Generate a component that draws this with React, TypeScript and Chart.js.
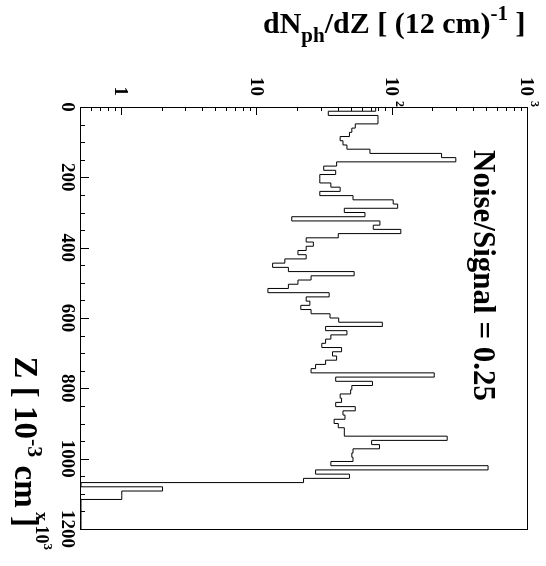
import React, { useEffect, useRef } from "react";
import { Chart, registerables } from "chart.js";

Chart.register(...registerables);

// Photon yield per 12-unit slice along Z (100 slices from 0 to 1200)
const BIN_WIDTH = 12;
const Z_MIN = 0;
const Z_MAX = 1200;
const counts: number[] = [
  75, 33.5, 78, 78, 53, 50, 48, 41, 43, 46,
  68, 230, 293, 38.6, 31, 38, 29, 29, 35, 41,
  29, 51, 101, 109, 44, 62.5, 18, 80.6, 72, 115,
  39.7, 23, 26, 23, 20, 23, 16, 13, 17, 52,
  25, 20, 17, 12, 34, 23, 24.5, 21, 25, 34.5,
  40, 84, 32, 46, 35, 32, 30, 42, 36, 38.6,
  32, 27, 25, 203, 38, 71, 50, 49, 41, 42,
  38, 53, 43, 44.5, 37, 39.7, 44, 44, 253, 70,
  80, 51, 50, 51, 35, 507, 27, 48, 22, 0,
  2, 1, 1, 0, 0, 0, 0, 0, 0, 0,
];

// Axis ranges and ticks
const Y_MIN = 0.5;
const Y_MAX = 1000;
const zTicks = [0, 200, 400, 600, 800, 1000, 1200];
const zTickLabels = ["0", "200", "400", "600", "800", "1000", "1200"];
const Z_MINOR_STEP = 50;
const yMajorTicks = [1, 10, 100, 1000];
const yTickBase = ["1", "10", "10", "10"];
const yTickExp = ["", "", "2", "3"];

// Texts
const annotation = "Noise/Signal = 0.25";
const yTitleParts = ["dN", "ph", "/dZ [ (12 cm)", "-1", " ]"];
const xTitleParts = ["Z [ 10", "-3", " cm ]"];
const xExpParts = ["x", "10", "3"];

const SERIF = '"Liberation Serif", "Times New Roman", serif';
const font = (px: number) => `bold ${px}px ${SERIF}`;

type Part = { t: string; s: number; dy: number };

function drawParts(ctx: CanvasRenderingContext2D, parts: Part[], x: number, y: number, align: "left" | "right") {
  let total = 0;
  for (const p of parts) {
    ctx.font = font(p.s);
    total += ctx.measureText(p.t).width;
  }
  let cx = align === "right" ? x - total : x;
  ctx.textAlign = "left";
  ctx.textBaseline = "alphabetic";
  for (const p of parts) {
    ctx.font = font(p.s);
    ctx.fillText(p.t, cx, y + p.dy);
    cx += ctx.measureText(p.t).width;
  }
}

const rootStylePlugin = {
  id: "rootStyle",
  afterDatasetsDraw(chart: any) {
    const { ctx, chartArea: a } = chart;
    const xs = chart.scales.x;
    const ys = chart.scales.y;
    const L = Math.round(a.left);
    const R = Math.round(a.right);
    const T = Math.round(a.top);
    const B = Math.round(a.bottom);
    ctx.save();
    ctx.strokeStyle = "#000";
    ctx.fillStyle = "#000";
    ctx.lineWidth = 1;

    // frame
    ctx.strokeRect(L + 0.5, T + 0.5, R - L, B - T);

    // Z axis ticks, drawn inward
    ctx.beginPath();
    for (let z = Z_MIN; z <= Z_MAX; z += Z_MINOR_STEP) {
      const px = Math.round(xs.getPixelForValue(z)) + 0.5;
      const len = zTicks.includes(z) ? 8 : 4;
      ctx.moveTo(px, B);
      ctx.lineTo(px, B - len);
    }
    // log axis ticks, drawn inward
    for (let d = 0.1; d < Y_MAX; d *= 10) {
      for (let m = 1; m <= 9; m++) {
        const v = m * d;
        if (v <= Y_MIN * 1.0001 || v >= Y_MAX * 0.9999) continue;
        const py = Math.round(ys.getPixelForValue(v)) + 0.5;
        const len = m === 1 ? 8 : 4;
        ctx.moveTo(L, py);
        ctx.lineTo(L + len, py);
      }
    }
    ctx.stroke();

    // Z tick labels
    ctx.font = font(19);
    ctx.textAlign = "center";
    ctx.textBaseline = "alphabetic";
    zTicks.forEach((z, i) => {
      ctx.fillText(zTickLabels[i], xs.getPixelForValue(z), B + 19);
    });

    // log axis labels (exponent overhangs the aligned base)
    yMajorTicks.forEach((v, i) => {
      const py = ys.getPixelForValue(v);
      ctx.font = font(19);
      ctx.textAlign = "right";
      ctx.fillText(yTickBase[i], L - 11, py + 6.5);
      if (yTickExp[i]) {
        ctx.font = font(12);
        ctx.textAlign = "left";
        ctx.fillText(yTickExp[i], L - 6, py - 3);
      }
    });

    // annotation
    ctx.font = font(31);
    ctx.textAlign = "left";
    ctx.fillText(annotation, 150, 72);

    // Z axis title and exponent
    drawParts(
      ctx,
      [
        { t: xTitleParts[0], s: 33, dy: 0 },
        { t: xTitleParts[1], s: 22, dy: -13 },
        { t: xTitleParts[2], s: 33, dy: 0 },
      ],
      R - 2,
      531,
      "right"
    );
    drawParts(
      ctx,
      [
        { t: xExpParts[0] + " ", s: 18, dy: 0 },
        { t: xExpParts[1], s: 18, dy: 0 },
        { t: xExpParts[2], s: 13, dy: -8 },
      ],
      512,
      510,
      "left"
    );

    // value axis title, drawn across the page
    ctx.translate(33, 283);
    ctx.rotate(-Math.PI / 2);
    drawParts(
      ctx,
      [
        { t: yTitleParts[0], s: 30, dy: 0 },
        { t: yTitleParts[1], s: 21, dy: 9 },
        { t: yTitleParts[2], s: 30, dy: 0 },
        { t: yTitleParts[3], s: 21, dy: -13 },
        { t: yTitleParts[4], s: 30, dy: 0 },
      ],
      0,
      0,
      "left"
    );
    ctx.restore();
  },
};

export default function App() {
  const canvasRef = useRef<HTMLCanvasElement>(null);

  useEffect(() => {
    const points = counts.map((c, i) => ({ x: Z_MIN + i * BIN_WIDTH, y: Math.max(c, Y_MIN) }));
    points.push({ x: Z_MAX, y: Math.max(counts[counts.length - 1], Y_MIN) });

    const chart = new Chart(canvasRef.current!, {
      type: "line",
      data: {
        datasets: [
          {
            data: points,
            stepped: true,
            borderColor: "#000",
            borderWidth: 1,
            pointRadius: 0,
            fill: false,
            tension: 0,
          },
        ],
      },
      options: {
        animation: false,
        responsive: false,
        devicePixelRatio: 1,
        events: [],
        layout: { padding: { left: 107, right: 37, top: 18, bottom: 81 } },
        plugins: { legend: { display: false }, tooltip: { enabled: false } },
        scales: {
          x: { type: "linear", min: Z_MIN, max: Z_MAX, display: false },
          y: { type: "logarithmic", min: Y_MIN, max: Y_MAX, display: false },
        },
      },
      plugins: [rootStylePlugin],
    } as any);
    return () => chart.destroy();
  }, []);

  return (
    <div style={{ position: "absolute", left: 0, top: 0, width: 546, height: 566, overflow: "hidden", background: "#fff" }}>
      <div
        style={{
          position: "absolute",
          left: 0,
          top: 0,
          width: 566,
          height: 546,
          transformOrigin: "0 0",
          transform: "translate(546px, 0px) rotate(90deg)",
        }}
      >
        <canvas ref={canvasRef} width={566} height={546} style={{ display: "block", width: 566, height: 546 }} />
      </div>
    </div>
  );
}
